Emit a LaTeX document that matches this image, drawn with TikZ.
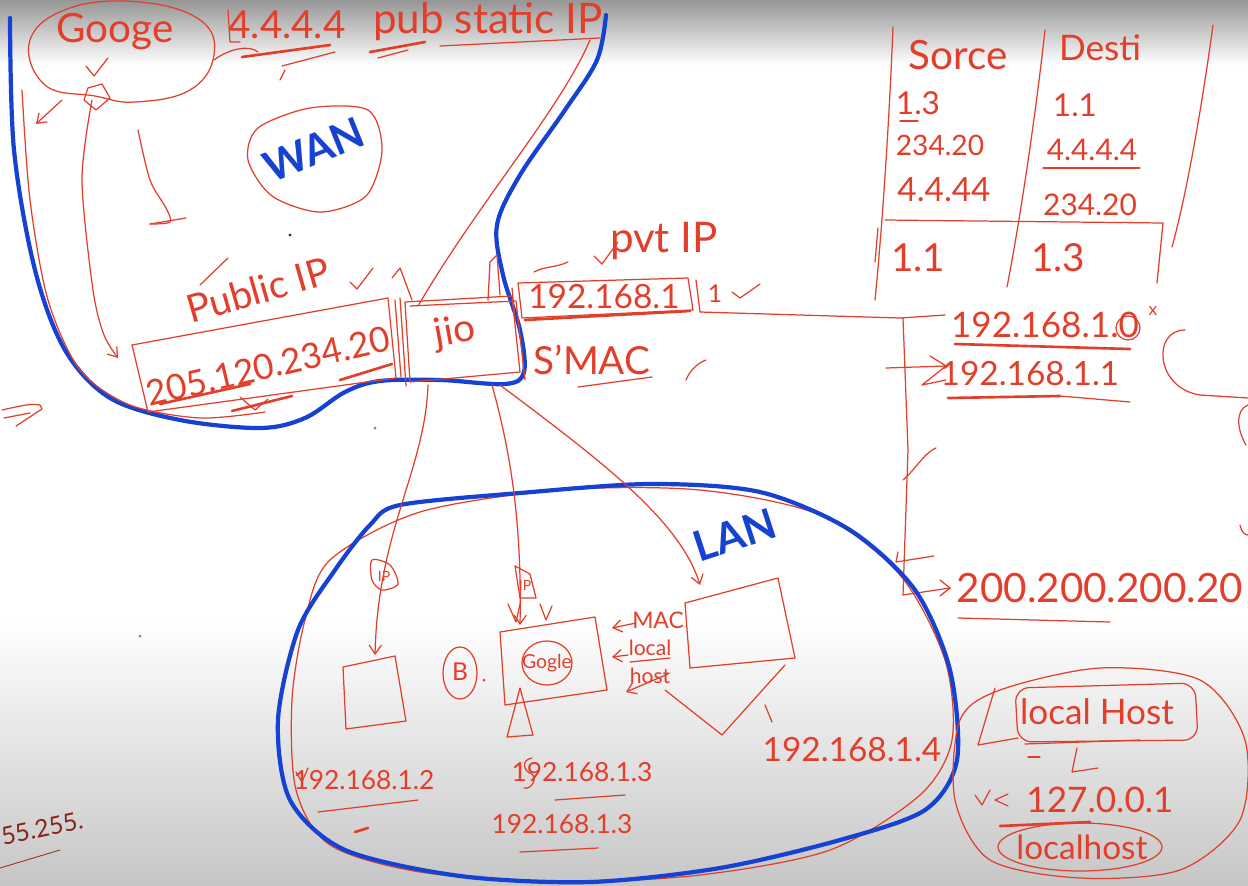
\documentclass[tikz,border=0pt]{standalone}
\usepackage{fontspec}
\setmainfont{Lato}
\usetikzlibrary{arrows.meta,calc}
\definecolor{hred}{RGB}{226,62,42}
\definecolor{hblue}{RGB}{22,66,212}
\definecolor{bgtop}{RGB}{150,150,150}
\definecolor{bgbot}{RGB}{198,198,198}
\begin{document}
\begin{tikzpicture}[x=0.02cm,y=-0.02cm,
  rl/.style={draw=hred,line width=0.7pt,line cap=round,line join=round},
  rlt/.style={draw=hred,line width=1.5pt,line cap=round},
  bl/.style={draw=hblue,line width=2.4pt,line cap=round,line join=round},
  hw/.style={text=hred,inner sep=0pt,font=\fontsize{#1}{#1}\selectfont},
  hw/.default=16,
  hb/.style={text=hblue,inner sep=0pt,font=\fontsize{#1}{#1}\selectfont\bfseries},
  hb/.default=22,
  arr/.style={-{Straight Barb[length=5pt,width=7pt]}},
]
\useasboundingbox (0,0) rectangle (1248,886);
\fill[white] (0,0) rectangle (1248,886);
\shade[top color=bgtop,bottom color=white] (0,0) rectangle (1248,65);
\shade[top color=white,bottom color=bgbot] (0,620) rectangle (1248,886);

% ---------------- WAN area ----------------
\draw[rl] plot[smooth cycle,tension=0.7] coordinates {(30,40) (70,8) (140,2) (200,20) (214,55) (190,90) (135,102) (95,96) (45,85)};
\node[hw=23] (google) at (115,32) {Googe};
\draw[rl] (86,66) -- (94,76) -- (108,58);
\draw[rl] (88,88) -- (102,84) -- (110,98) -- (96,110) -- (84,100) -- cycle;
\draw[rl,arr] (62,100) -- (36,124);

\node[hw=22] (gip) at (287,25) {4.4.4.4};
\draw[rl] (228,10) -- (230,42) -- (240,42);
\draw[rlt] (242,57) -- (330,45);
\draw[rl] (282,66) -- (335,52);
\draw[rl] (285,70) -- (280,80);
\node[hw=24] (pub) at (488,22) {pub static IP};
\draw[rlt] (370,52) -- (425,42);
\draw[rl] (378,58) -- (408,50);
\draw[rl] (440,46) -- (600,38);
\draw[rl] (214,60) .. controls (230,48) and (250,45) .. (258,52);

\draw[bl] plot[smooth,tension=0.55] coordinates {(10,18) (14,150) (35,270) (65,350) (110,398) (180,420) (260,428) (305,418) (345,392) (380,381) (440,380) (505,384) (524,372) (520,330) (503,275) (497,225) (520,175) (565,110) (597,60) (606,15)};
\draw[rl] plot[smooth] coordinates {(22,90) (30,200) (48,300) (80,370) (130,405) (200,418) (265,412)};

\draw[rl,arr] plot[smooth] coordinates {(92,100) (82,180) (93,290) (104,335) (118,358)};
\draw[rl] plot[smooth] coordinates {(138,130) (150,180) (166,208) (170,222) (150,224)};
\draw[rl] (150,224) -- (186,218);

\draw[rl] plot[smooth cycle] coordinates {(258,128) (310,108) (368,110) (382,150) (366,196) (320,212) (272,196) (248,160)};
\node[hb=24,rotate=22] (wan) at (314,150) {WAN};
\fill[black!80] (290,235) circle [radius=1.6];

\node[hw=22,rotate=16] (pubiplab) at (258,290) {Public IP};
\draw[rl] (200,285) -- (228,258);
\draw[rl] (350,282) -- (357,289) -- (373,268);
\draw[rl] (132,345) -- (388,298) -- (396,378) -- (148,412) -- cycle;
\draw[rl] (395,300) -- (401,377);
\node[hw=20,rotate=13] (pubip) at (268,366) {205.120.234.20};
\draw[rlt] (160,404) -- (250,384);
\draw[rlt] (232,411) -- (292,396);
\draw[rlt] (340,380) -- (392,364);
\draw[rl] (240,397) -- (255,410) -- (268,399);

% jio
\draw[rl] (405,302) -- (512,296) -- (520,372) -- (410,382) -- cycle;
\draw[rl] (400,298) -- (406,386);
\draw[rl] (410,306) -- (516,301) -- (525,380);
\node[hw=22,rotate=10] (jio) at (455,333) {jio};
\draw[rl] (392,278) -- (400,268) -- (412,300);
\draw[rl] (488,300) -- (490,262) -- (497,255) -- (500,295);
\draw[rl] (590,40) .. controls (560,110) and (480,200) .. (418,306);

% router
\draw[rl] (518,283) -- (688,278) -- (693,310) -- (522,318) -- cycle;
\draw[rl] (512,288) -- (515,320);
\draw[rl] (696,280) -- (700,312);
\draw[rlt] (525,320) -- (690,311);
\node[hw=19] (pvtip) at (604,297) {192.168.1};
\node[hw=14] (pvtend) at (715,294) {1};
\node[hw=24] (pvtlab) at (664,241) {pvt IP};
\draw[rl] (594,256) -- (602,264) -- (618,242);
\draw[rl] (534,272) .. controls (545,266) and (555,268) .. (568,262);
\node[hw=22] (smac) at (592,360) {S'MAC};
\draw[rl] (578,387) -- (652,377);
\draw[rl] (732,292) -- (740,298) -- (760,284);
\draw[rl] (686,380) .. controls (690,370) and (698,363) .. (706,360);

% link to right list
\draw[rl] (700,312) -- (900,318);

% ---------------- table ----------------
\draw[rl] (893,27) .. controls (888,150) and (880,250) .. (875,300);
\draw[rl] (1045,30) .. controls (1035,120) and (1020,220) .. (1007,287);
\draw[rl] (1213,25) .. controls (1200,120) and (1185,200) .. (1172,247);
\draw[rl] (885,220) -- (1163,223) -- (1157,283);
\draw[rl] (878,228) -- (875,262);
\node[hw=23] (src) at (958,55) {Sorce};
\node[hw=20] (dst) at (1100,48) {Desti};
\node[hw=18] (s1) at (918,103) {1.3};
\draw[rl] (900,121) -- (918,121);
\node[hw=18] (d1) at (1075,105) {1.1};
\node[hw=16] (s2) at (940,145) {234.20};
\node[hw=17] (d2) at (1092,150) {4.4.4.4};
\draw[rl] (1043,168) -- (1140,168);
\node[hw=19] (s3) at (944,190) {4.4.44};
\node[hw=17] (d3) at (1090,205) {234.20};
\node[hw=22] (s4) at (918,258) {1.1};
\node[hw=22] (d4) at (1058,258) {1.3};

% ---------------- right list ----------------
\draw[rl] (900,318) -- (945,315);
\draw[rl] (903,318) -- (908,450) -- (903,595) -- (950,588);
\draw[rl] (940,580) -- (950,588) -- (940,596);
\draw[rl] (886,368) -- (946,366);
\draw[rl] (930,356) -- (946,366) -- (922,385) -- (946,380);
\node[hw=20] (net0) at (1045,325) {192.168.1.0};
\draw[rl] (1128,328) circle [radius=12];
\node[hw=10] (netx) at (1153,311) {x};
\draw[rlt] (955,344) -- (1130,349);
\node[hw=19] (net1) at (1030,374) {192.168.1.1};
\draw[rlt] (948,398) -- (1060,396);
\draw[rl] (1060,396) -- (1130,402);
\node[hw=23] (net2) at (1100,588) {200.200.200.20};
\draw[rl] (958,618) -- (1110,622);
\draw[rl] (903,480) .. controls (915,470) and (925,452) .. (936,448);
\draw[rl] (898,552) -- (896,562) -- (934,556);
\draw[rl] (1185,330) .. controls (1152,330) and (1155,388) .. (1200,395) -- (1248,398);
\draw[rl] (1248,405) .. controls (1235,410) and (1237,430) .. (1246,445);
\draw[rl] (1240,525) .. controls (1242,533) and (1245,535) .. (1248,535);

% ---------------- LAN ----------------
\draw[rl] plot[smooth cycle] coordinates {(330,560) (420,512) (560,490) (700,490) (820,515) (900,575) (945,660) (952,740) (920,795) (830,850) (700,875) (560,882) (420,872) (330,845) (296,790) (292,700) (305,620)};
\draw[bl] plot[smooth cycle] coordinates {(400,505) (520,493) (650,484) (760,492) (850,530) (915,590) (950,670) (957,760) (925,810) (840,840) (720,868) (590,882) (460,876) (345,850) (290,800) (278,720) (298,630) (335,570) (370,525)};
\node[hb=24,rotate=18] (lan) at (735,535) {LAN};

% devices
\draw[rl] (343,667) -- (395,656) -- (406,721) -- (346,729) -- cycle;
\draw[rl] plot[smooth cycle] coordinates {(372,560) (390,565) (398,584) (382,590) (372,580)};
\node[hw=8] (ip1lab) at (384,576) {IP};
\draw[rl] (500,632) -- (595,617) -- (607,690) -- (505,705) -- cycle;
\draw[rl] (547,663) ellipse [x radius=25, y radius=22];
\node[hw=11] (gin) at (547,663) {Gogle};
\draw[rl] (460,673) ellipse [x radius=17, y radius=26];
\node[hw=14] (bro) at (460,672) {B};
\fill[hred] (484,680) circle [radius=1.5];
\draw[rl] (520,688) -- (533,735) -- (507,737) -- cycle;
\draw[rl] (515,566) -- (520,598) -- (536,598) -- (530,574) -- cycle;
\node[hw=8] (ip2lab) at (525,585) {IP};
\draw[rl] (508,604) -- (516,622) -- (520,604);
\draw[rl] (540,604) -- (546,620) -- (552,606);
\node[hw=13] (mac) at (658,620) {MAC};
\draw[rl,arr] (636,623) -- (612,628);
\node[hw=12] (loc) at (650,648) {local};
\draw[rl] (630,662) -- (670,658);
\node[hw=12] (hst) at (650,676) {host};
\draw[rl,arr] (628,655) -- (612,657);
\draw[rl] (685,603) -- (778,578) -- (795,658) -- (690,668) -- cycle;
\draw[rl] (665,690) -- (722,735) -- (785,665);
\draw[rl,arr] (668,674) -- (626,692);
\draw[rl] (765,705) -- (772,722);

\draw[rl,arr] (428,385) .. controls (425,470) and (378,530) .. (375,655);
\draw[rl,arr] (492,385) .. controls (510,450) and (522,520) .. (520,625);
\draw[rl,arr] (500,385) .. controls (600,460) and (680,520) .. (700,585);

\node[hw=15] (ip2) at (364,780) {192.168.1.2};
\draw[rl] (296,772) -- (302,782) -- (308,768);
\draw[rl] (318,812) -- (418,800);
\draw[rlt] (355,832) -- (368,828);
\node[hw=15] (ip3) at (582,772) {192.168.1.3};
\draw[rl] (532,758) .. controls (520,760) and (524,772) .. (532,774) .. controls (538,780) and (530,790) .. (524,788);
\draw[rl] (555,800) -- (625,795);
\node[hw=15] (ip3b) at (562,824) {192.168.1.3};
\draw[rl] (520,852) -- (598,848);
\node[hw=19] (ip4) at (852,750) {192.168.1.4};

% ---------------- localhost ----------------
\draw[rl] plot[smooth cycle] coordinates {(1000,690) (1100,668) (1200,680) (1245,740) (1240,820) (1180,870) (1080,878) (990,860) (955,800) (960,720)};
\draw[rl,rounded corners=8] (1015,688) -- (1195,683) -- (1198,740) -- (1018,742) -- cycle;
\node[hw=20] (lhname) at (1097,712) {local Host};
\draw[rl] (995,688) -- (978,745) -- (1018,738);
\draw[rl] (1025,744) -- (1140,740);
\draw[rl] (1077,748) -- (1072,772) -- (1098,768);
\draw[rl] (1028,757) -- (1040,757);
\node[hw=20] (loop) at (1100,800) {127.0.0.1};
\draw[rl] (975,795) -- (982,805) -- (990,790);
\draw[rl] (1008,794) -- (995,800) -- (1008,806);
\draw[rlt] (1000,826) -- (1090,822);
\draw[rl] (1080,847) ellipse [x radius=82, y radius=24];
\node[hw=19] (lhword) at (1082,847) {localhost};

% ---------------- misc ----------------
\node[text=hred!60!black,inner sep=0pt,font=\fontsize{14}{14}\selectfont,rotate=12] (mask) at (42,828) {55.255.};
\draw[draw=hred!70!black,line width=0.5pt] (0,868) -- (60,850);
\draw[rl] (2,410) .. controls (20,406) and (32,403) .. (40,405) -- (42,409) -- (16,426);
\draw[rl] (4,418) -- (30,413);
\fill[black!50] (375,428) circle [radius=1.5];
\fill[green!40!gray] (140,636) circle [radius=1.5];
\end{tikzpicture}
\end{document}
